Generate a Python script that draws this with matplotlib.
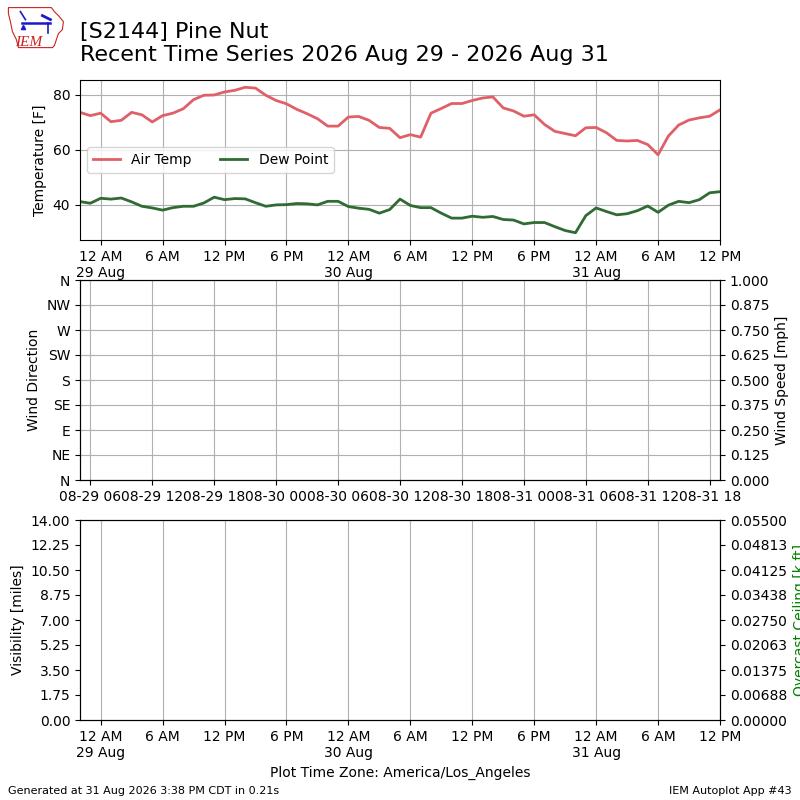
import datetime
import matplotlib
matplotlib.use("Agg")
import matplotlib.pyplot as plt
import matplotlib.dates as mdates
from matplotlib.ticker import LinearLocator, FuncFormatter
from matplotlib.patches import Polygon

# hourly observations, local time (America/Los_Angeles)
start_local = datetime.datetime(2026, 8, 28, 22, 0)
utc_offset = datetime.timedelta(hours=7)

air_temp = [
    73.6, 72.4, 73.3, 70.2, 70.7, 73.6, 72.7, 70.1, 72.4, 73.3, 74.9, 78.2,
    79.8, 79.9, 81.0, 81.6, 82.7, 82.4, 79.8, 77.9, 76.7, 74.7, 73.1, 71.3,
    68.6, 68.6, 71.9, 72.1, 70.7, 68.1, 67.8, 64.4, 65.5, 64.6, 73.3, 75.0,
    76.8, 76.8, 77.9, 78.8, 79.2, 75.2, 74.1, 72.2, 72.7, 69.2, 66.7, 65.9,
    65.1, 68.0, 68.1, 66.2, 63.4, 63.2, 63.4, 61.9, 58.2, 65.0, 69.0, 70.8,
    71.6, 72.2, 74.5,
]
dew_point = [
    41.2, 40.6, 42.4, 42.1, 42.5, 41.1, 39.5, 38.9, 38.1, 39.0, 39.5, 39.5,
    40.7, 42.8, 41.9, 42.3, 42.2, 40.8, 39.5, 40.0, 40.1, 40.5, 40.4, 40.0,
    41.3, 41.3, 39.4, 38.8, 38.4, 37.0, 38.3, 42.1, 39.8, 39.0, 39.0, 37.0,
    35.2, 35.2, 35.9, 35.5, 35.8, 34.7, 34.5, 33.1, 33.6, 33.6, 32.1, 30.7,
    29.9, 36.1, 38.9, 37.6, 36.4, 36.8, 37.9, 39.6, 37.3, 39.9, 41.3, 40.8,
    41.9, 44.4, 44.8,
]
dir_labels = ["N", "NE", "E", "SE", "S", "SW", "W", "NW", "N"]

times = [start_local + datetime.timedelta(hours=i) for i in range(len(air_temp))]
times_utc = [t + utc_offset for t in times]

TEMP_COLOR = "#df6068"
DWPT_COLOR = "#2f6b32"


def local_fmt(x, pos=None):
    dt = mdates.num2date(x)
    if dt.hour == 0:
        return "12 AM\n%d %s" % (dt.day, dt.strftime("%b"))
    return dt.strftime("%I %p").lstrip("0")


fig = plt.figure(figsize=(8, 8), dpi=100)

# temperature panel
ax1 = fig.add_axes([0.1, 0.7, 0.8, 0.2])
ax1.plot(times, air_temp, color=TEMP_COLOR, lw=2, label="Air Temp")
ax1.plot(times, dew_point, color=DWPT_COLOR, lw=2, label="Dew Point")
ax1.set_xlim(times[0], times[-1])
ax1.set_ylabel("Temperature [F]")
ax1.grid(True)
ax1.legend(loc="center left", ncol=2)
ax1.xaxis.set_major_locator(mdates.HourLocator(byhour=[0, 6, 12, 18]))
ax1.xaxis.set_major_formatter(FuncFormatter(local_fmt))

# wind panel (no data)
ax2 = fig.add_axes([0.1, 0.4, 0.8, 0.25])
ax2.set_xlim(times_utc[0], times_utc[-1])
ax2.set_ylim(0, 360)
ax2.set_yticks(range(0, 361, 45))
ax2.set_yticklabels(dir_labels)
ax2.set_ylabel("Wind Direction")
ax2.grid(True)
ax2.xaxis.set_major_locator(mdates.HourLocator(byhour=[0, 6, 12, 18]))
ax2.xaxis.set_major_formatter(mdates.DateFormatter("%m-%d %H"))
ax2b = ax2.twinx()
ax2b.set_ylim(0, 1)
ax2b.yaxis.set_major_locator(LinearLocator(9))
ax2b.set_ylabel("Wind Speed [mph]")

# visibility / ceiling panel (no data)
ax3 = fig.add_axes([0.1, 0.1, 0.8, 0.25])
ax3.set_xlim(times[0], times[-1])
ax3.set_ylim(0, 14)
ax3.yaxis.set_major_locator(LinearLocator(9))
ax3.set_ylabel("Visibility [miles]")
ax3.grid(True, axis="x")
ax3.xaxis.set_major_locator(mdates.HourLocator(byhour=[0, 6, 12, 18]))
ax3.xaxis.set_major_formatter(FuncFormatter(local_fmt))
ax3.set_xlabel("Plot Time Zone: America/Los_Angeles")
ax3b = ax3.twinx()
ax3b.set_ylim(0, 0.055)
ax3b.yaxis.set_major_locator(LinearLocator(9))
ax3b.set_ylabel("Overcast Ceiling [k ft]", color="g")

# titles and footer
fig.text(0.1, 0.973, "[S2144] Pine Nut\nRecent Time Series 2026 Aug 29 - 2026 Aug 31",
         fontsize=16, va="top", ha="left")
fig.text(0.01, 0.005, "Generated at 31 Aug 2026 3:38 PM CDT in 0.21s",
         fontsize=8, va="bottom", ha="left")
fig.text(0.99, 0.005, "IEM Autoplot App #43", fontsize=8, va="bottom", ha="right")

# rough IEM logo
logo = fig.add_axes([0.008, 0.938, 0.075, 0.055])
logo.set_xlim(0, 60)
logo.set_ylim(44, 0)
logo.axis("off")
outline = [(2, 2), (45, 2), (48, 6), (52, 10), (57, 16), (56, 24), (52, 28),
           (50, 34), (48, 40), (46, 42), (12, 42), (10, 34), (6, 26), (4, 16),
           (2, 8)]
logo.add_patch(Polygon(outline, closed=True, fill=False, ec="#cc2222", lw=0.8))
logo.plot([16, 44], [17, 17], color="#1a1acc", lw=1.8)
logo.plot([14, 19], [6, 14], color="#1a1acc", lw=1.2)
logo.plot([36, 44], [10, 14], color="#1a1acc", lw=2)
logo.plot([42, 42], [17, 27], color="#1a1acc", lw=1.2)
logo.plot([17], [21], marker="^", color="#1a1acc", ms=3)
logo.text(9, 40, "IEM", color="#cc2222", fontsize=11, family="Liberation Serif",
          style="italic")

fig.savefig("out.png", dpi=100)
